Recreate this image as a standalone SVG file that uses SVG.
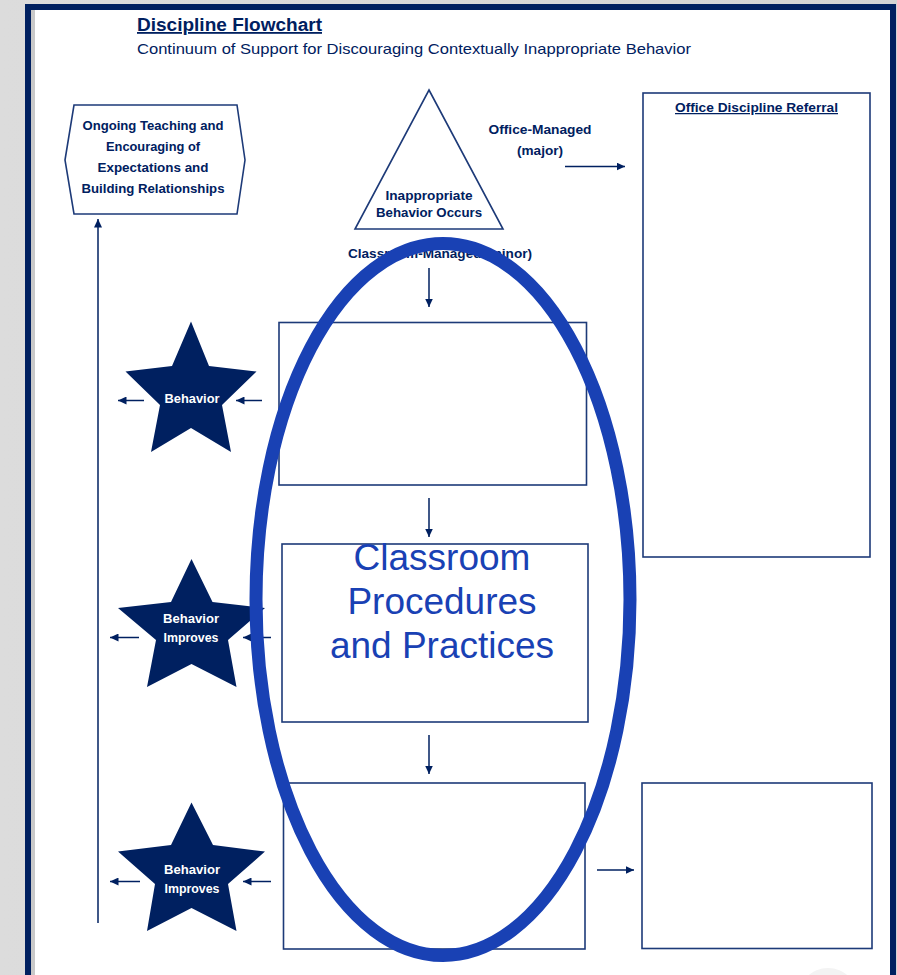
<svg xmlns="http://www.w3.org/2000/svg" width="897" height="975" viewBox="0 0 897 975">
  <style>
    .navy { fill: #002060; }
    .box { fill: none; stroke: #1d3a78; stroke-width: 1.6; }
    .shape { fill: #ffffff; stroke: #1d3a78; stroke-width: 1.6; }
    .lbl { font-family: "Liberation Sans", Arial, sans-serif; font-weight: bold; font-size: 12.5px; fill: #002060; text-anchor: middle; }
    .star-lbl { font-family: "Liberation Sans", Arial, sans-serif; font-weight: bold; font-size: 12px; fill: #ffffff; text-anchor: middle; }
    .conn { stroke: #002060; stroke-width: 1.5; fill: none; marker-end: url(#head); }
    .big { font-family: "Liberation Sans", Arial, sans-serif; font-size: 37px; fill: #1941b4; text-anchor: middle; }
  </style>
  <defs>
    <marker id="head" markerUnits="userSpaceOnUse" markerWidth="9" markerHeight="8" refX="8.5" refY="4" orient="auto">
      <path d="M0,0 L8.5,4 L0,8 z" fill="#002060"/>
    </marker>
    <linearGradient id="bg" x1="0" y1="0" x2="1" y2="0">
      <stop offset="0" stop-color="#dcdcdc"/>
      <stop offset="1" stop-color="#d4d4d4"/>
    </linearGradient>
  </defs>

  <!-- page background and frame -->
  <rect x="0" y="0" width="897" height="975" fill="url(#bg)"/>
  <rect x="25" y="4" width="871" height="980" fill="#002060"/>
  <rect x="31" y="10" width="859" height="970" fill="#c9c9c9"/>
  <rect x="35" y="10" width="855" height="970" fill="#ffffff"/>
  <circle cx="828" cy="998" r="30" fill="#f3f3f3"/>

  <!-- heading -->
  <g id="heading">
    <text x="137" y="31" font-family="'Liberation Sans', Arial, sans-serif" font-weight="bold" font-size="18" fill="#002060" text-decoration="underline" textLength="185" lengthAdjust="spacingAndGlyphs">Discipline Flowchart</text>
    <text x="137" y="53.5" font-family="'Liberation Sans', Arial, sans-serif" font-size="15" fill="#002060" textLength="554" lengthAdjust="spacingAndGlyphs">Continuum of Support for Discouraging Contextually Inappropriate Behavior</text>
  </g>

  <!-- connectors -->
  <g id="connectors">
    <line class="conn" x1="98" y1="923" x2="98" y2="219"/>
    <line class="conn" x1="565" y1="166.5" x2="625" y2="166.5"/>
    <line class="conn" x1="429" y1="268" x2="429" y2="307"/>
    <line class="conn" x1="429" y1="498" x2="429" y2="537"/>
    <line class="conn" x1="429" y1="735" x2="429" y2="774"/>
    <line class="conn" x1="597" y1="870" x2="634" y2="870"/>
    <line class="conn" x1="144" y1="400.5" x2="118" y2="400.5"/>
    <line class="conn" x1="262" y1="400.5" x2="236" y2="400.5"/>
    <line class="conn" x1="139" y1="637.5" x2="110" y2="637.5"/>
    <line class="conn" x1="271" y1="637.5" x2="243" y2="637.5"/>
    <line class="conn" x1="140" y1="881.5" x2="110" y2="881.5"/>
    <line class="conn" x1="271" y1="881.5" x2="243" y2="881.5"/>
  </g>

  <!-- ongoing teaching hexagon -->
  <g id="ongoing-teaching">
    <polygon class="shape" points="65,160 74,105 237,105 245,160 237,214 74,214"/>
    <text class="lbl" x="153" y="130" textLength="141" lengthAdjust="spacingAndGlyphs">Ongoing Teaching and</text>
    <text class="lbl" x="153" y="151" textLength="94" lengthAdjust="spacingAndGlyphs">Encouraging of</text>
    <text class="lbl" x="153" y="172" textLength="111" lengthAdjust="spacingAndGlyphs">Expectations and</text>
    <text class="lbl" x="153" y="193" textLength="143" lengthAdjust="spacingAndGlyphs">Building Relationships</text>
  </g>

  <!-- trigger triangle -->
  <g id="behavior-occurs">
    <polygon class="shape" points="429,90 503,229 355,229"/>
    <text class="lbl" x="429" y="199.5" textLength="87" lengthAdjust="spacingAndGlyphs">Inappropriate</text>
    <text class="lbl" x="429" y="216.5" textLength="106" lengthAdjust="spacingAndGlyphs">Behavior Occurs</text>
  </g>

  <g id="office-managed-label">
    <text class="lbl" x="540" y="133.5" textLength="103" lengthAdjust="spacingAndGlyphs">Office-Managed</text>
    <text class="lbl" x="540" y="154.5" textLength="46" lengthAdjust="spacingAndGlyphs">(major)</text>
  </g>

  <g id="classroom-managed-label">
    <text class="lbl" x="440" y="258" textLength="184" lengthAdjust="spacingAndGlyphs">Classroom-Managed (minor)</text>
  </g>

  <!-- office referral -->
  <g id="office-referral">
    <rect class="box" x="643" y="93" width="227" height="464"/>
    <text class="lbl" x="756.5" y="112" font-size="12" text-decoration="underline" textLength="163" lengthAdjust="spacingAndGlyphs">Office Discipline Referral</text>
  </g>

  <!-- classroom steps -->
  <g id="step-1"><rect class="box" x="279" y="322.5" width="307.5" height="162.5"/></g>
  <g id="step-2"><rect class="box" x="282" y="544" width="306" height="178"/></g>
  <g id="step-3"><rect class="box" x="283.5" y="783" width="301.5" height="166"/></g>
  <g id="step-office"><rect class="box" x="642" y="783" width="230" height="165.5"/></g>

  <!-- outcome stars -->
  <g id="star-1">
    <polygon class="navy" points="191,321.5 209,366 256.5,371.5 222,405 231,452 191,428 151,452 160,405 125.5,371.5 172,366"/>
    <text class="star-lbl" x="192" y="402.5" textLength="55" lengthAdjust="spacingAndGlyphs">Behavior</text>
  </g>
  <g id="star-2">
    <polygon class="navy" points="191.5,559 212.5,602 265,608 228,640 236.5,687 191.5,664 147,687 156,640 118,608 171,602"/>
    <text class="star-lbl" x="191" y="623" textLength="56" lengthAdjust="spacingAndGlyphs">Behavior</text>
    <text class="star-lbl" x="191" y="642" textLength="55" lengthAdjust="spacingAndGlyphs">Improves</text>
  </g>
  <g id="star-3">
    <polygon class="navy" points="191.5,802.5 213,845 265,851.5 228,884 236.5,931 191.5,908 147,931 155,884 118,851.5 171,845"/>
    <text class="star-lbl" x="192" y="873.5" textLength="56" lengthAdjust="spacingAndGlyphs">Behavior</text>
    <text class="star-lbl" x="192" y="892.5" textLength="55" lengthAdjust="spacingAndGlyphs">Improves</text>
  </g>

  <!-- highlighted classroom zone -->
  <g id="classroom-zone">
    <ellipse cx="443" cy="599.5" rx="187" ry="356" fill="none" stroke="#1941b4" stroke-width="13"/>
    <text class="big" x="442" y="570">Classroom</text>
    <text class="big" x="442" y="614">Procedures</text>
    <text class="big" x="442" y="658">and Practices</text>
  </g>
</svg>
